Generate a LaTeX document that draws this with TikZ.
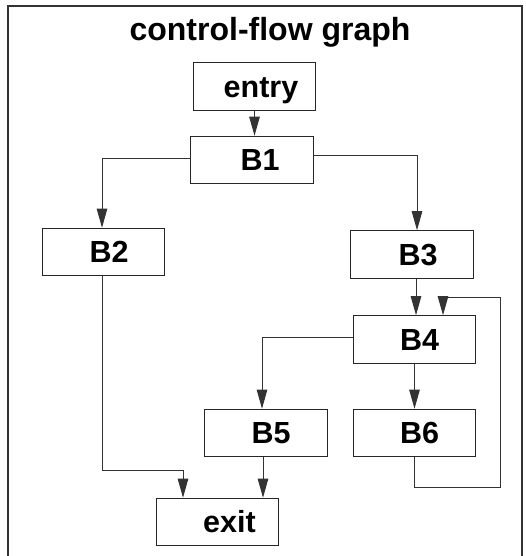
\documentclass[tikz,border=0pt]{standalone}
\usepackage{fontspec}
\setmainfont{Liberation Sans}
\usetikzlibrary{arrows.meta,calc}
\begin{document}
\begin{tikzpicture}[x=1pt,y=-1pt,
  every node/.style={font=\bfseries\fontsize{30.5}{36}\selectfont, text height=21.8pt, text depth=0pt},
  blk/.style={draw=black!85, line width=1.1pt, minimum width=122.5pt, minimum height=47.5pt, inner sep=0pt},
  edge/.style={draw=black!80, line width=1pt, -{Triangle[length=19pt,width=10.5pt]}},
  plain/.style={draw=black!80, line width=1pt}]
\useasboundingbox (0,0) rectangle (526,556);
\draw[black!80, line width=1.1pt] (8,556) -- (8,6) -- (522,6) -- (522,556);
\node[font=\bfseries\fontsize{32}{38}\selectfont, text height=22.9pt] (title) at (270,29.5) {control-flow graph};
\node[blk] (entry) at (254.5,86.5) {\hspace*{13pt}entry};
\node[blk] (B1) at (252,160) {\hspace*{16pt}B1};
\node[blk] (B2) at (103.5,252) {\hspace*{11pt}B2};
\node[blk] (B3) at (412,254.5) {\hspace*{12pt}B3};
\node[blk] (B4) at (414.5,339.5) {\hspace*{10pt}B4};
\node[blk] (B5) at (266,433) {\hspace*{10pt}B5};
\node[blk] (B6) at (414.5,433) {\hspace*{10pt}B6};
\node[blk] (exit) at (217.5,522) {\hspace*{24pt}exit};
\coordinate (c2) at (183,470);
\coordinate (l1) at (500,487);
\coordinate (l2) at (500,297);
\draw[edge] (entry.south) -- (entry.south |- B1.north);
\draw[edge] ([yshift=1pt]B1.west) -| ([xshift=-1.5pt]B2.north);
\draw[edge] ([yshift=4pt]B1.east) -| ([xshift=5pt]B3.north);
\draw[edge] ([xshift=4pt]B3.south) -- ([xshift=4pt]B3.south |- B4.north);
\draw[edge] ([yshift=2.5pt]B4.west) -| ([xshift=-4pt]B5.north);
\draw[edge] (B4.south) -- (B6.north);
\draw[edge] (B6.south) |- (l1) -- (l2) -| ([xshift=28.5pt]B4.north);
\draw[edge] ([xshift=-1.5pt]B2.south) |- (c2) -- (c2 |- exit.north);
\draw[edge] ([xshift=-3pt]B5.south) -- ([xshift=-3pt]B5.south |- exit.north);
\end{tikzpicture}
\end{document}
